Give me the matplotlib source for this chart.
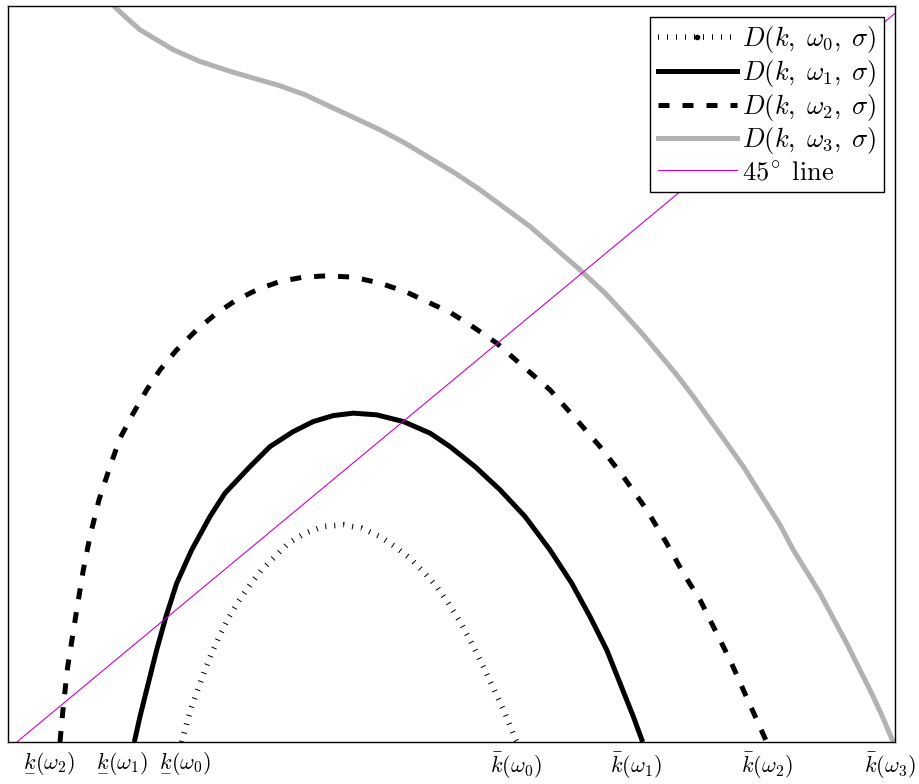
import matplotlib
matplotlib.use('Agg')
import matplotlib.pyplot as plt
from matplotlib.lines import Line2D
from matplotlib.mathtext import MathTextParser

plt.rcParams['mathtext.fontset'] = 'cm'
plt.rcParams['font.family'] = ['DejaVu Serif']

# curves (k on x, D on y, both scaled so that the 45 deg line is y = x)
k0 = [0.1958, 0.2015, 0.2071, 0.2145, 0.2221, 0.2296, 0.2390, 0.2484, 0.2596,
      0.2728, 0.2860, 0.3010, 0.3160, 0.3348, 0.3555, 0.3780, 0.3988, 0.4194,
      0.4363, 0.4532, 0.4682, 0.4833, 0.4964, 0.5096, 0.5228, 0.5358, 0.5490,
      0.5603, 0.5716, 0.5738]
d0 = [0.0100, 0.0355, 0.0581, 0.0831, 0.1079, 0.1306, 0.1555, 0.1782, 0.2008,
      0.2235, 0.2438, 0.2619, 0.2801, 0.2937, 0.3027, 0.3050, 0.3005, 0.2891,
      0.2755, 0.2597, 0.2415, 0.2212, 0.1986, 0.1736, 0.1442, 0.1124, 0.0785,
      0.0491, 0.0151, 0.0100]

k1 = [0.1424, 0.1488, 0.1582, 0.1676, 0.1781, 0.1902, 0.2071, 0.2277, 0.2446,
      0.2728, 0.2954, 0.3216, 0.3442, 0.3667, 0.3893, 0.4157, 0.4457, 0.4758,
      0.4983, 0.5265, 0.5547, 0.5829, 0.6110, 0.6355, 0.6561, 0.6750, 0.6900,
      0.7050, 0.7155]
d1 = [0.0100, 0.0445, 0.0899, 0.1351, 0.1804, 0.2258, 0.2710, 0.3163, 0.3481,
      0.3842, 0.4114, 0.4318, 0.4454, 0.4535, 0.4568, 0.4545, 0.4454, 0.4296,
      0.4114, 0.3842, 0.3526, 0.3163, 0.2710, 0.2258, 0.1804, 0.1351, 0.0899,
      0.0445, 0.0100]

k2 = [0.0586, 0.0623, 0.0673, 0.0775, 0.0849, 0.0924, 0.1026, 0.1150, 0.1263,
      0.1413, 0.1564, 0.1714, 0.1902, 0.2127, 0.2353, 0.2578, 0.2822, 0.3067,
      0.3329, 0.3593, 0.3893, 0.4194, 0.4495, 0.4758, 0.4983, 0.5209, 0.5510,
      0.5809, 0.6110, 0.6411, 0.6674, 0.6937, 0.7201, 0.7426, 0.7613, 0.7802,
      0.7952, 0.8140, 0.8290, 0.8553]
d2 = [0.0100, 0.0581, 0.1124, 0.1895, 0.2438, 0.2891, 0.3390, 0.3842, 0.4228,
      0.4568, 0.4885, 0.5156, 0.5428, 0.5700, 0.5927, 0.6108, 0.6253, 0.6357,
      0.6416, 0.6434, 0.6416, 0.6335, 0.6212, 0.6063, 0.5938, 0.5768, 0.5519,
      0.5201, 0.4885, 0.4477, 0.4114, 0.3706, 0.3254, 0.2801, 0.2394, 0.2031,
      0.1668, 0.1215, 0.0808, 0.0100]

k3 = [0.1187, 0.1338, 0.1488, 0.1676, 0.1864, 0.2165, 0.2540, 0.3067, 0.3348,
      0.3630, 0.3912, 0.4194, 0.4476, 0.4758, 0.5039, 0.5321, 0.5603, 0.5885,
      0.6167, 0.6449, 0.6731, 0.6975, 0.7162, 0.7351, 0.7539, 0.7726, 0.7914,
      0.8103, 0.8290, 0.8478, 0.8704, 0.8853, 0.9004, 0.9154, 0.9304, 0.9455,
      0.9586, 0.9718, 0.9850, 0.9980]
d3 = [1.0107, 0.9936, 0.9777, 0.9641, 0.9505, 0.9346, 0.9199, 0.9016, 0.8894,
      0.8735, 0.8577, 0.8418, 0.8237, 0.8033, 0.7830, 0.7603, 0.7354, 0.7104,
      0.6810, 0.6515, 0.6199, 0.5881, 0.5632, 0.5360, 0.5089, 0.4794, 0.4477,
      0.4160, 0.3842, 0.3481, 0.3050, 0.2710, 0.2415, 0.2122, 0.1782, 0.1442,
      0.1124, 0.0808, 0.0468, 0.0100]

tick_pos = [0.046, 0.129, 0.200, 0.572, 0.708, 0.855, 0.994]
tick_low = ['omega_2', 'omega_1', 'omega_0']
tick_high = ['omega_0', 'omega_1', 'omega_2', 'omega_3']


def mathtext_ok(s):
    try:
        MathTextParser('path').parse(s)
        return True
    except Exception:
        return False


if mathtext_ok(r'$\underline{k}$'):
    low_k = r'\underline{k}'
else:
    low_k = r'\underset{-}{k}'

labels = [r'$%s(\%s)$' % (low_k, w) for w in tick_low]
labels += [r'$\bar{k}(\%s)$' % w for w in tick_high]

deg = r'$45^{\!\circ}\ \mathrm{line}$'
if not mathtext_ok(deg):
    deg = r'$45^\circ\ \mathrm{line}$'

fig = plt.figure(figsize=(9.2, 7.84), dpi=100)
ax = fig.add_axes([8 / 920, 42 / 784, 887 / 920, 736 / 784])

dot_style = (0, (0.18, 1.44))
dash_style = (0, (2.2, 2.6))
ax.plot(k0, d0, color='black', lw=4.0, linestyle=dot_style,
        dash_capstyle='butt')
ax.plot(k1, d1, color='black', lw=3.6, solid_capstyle='butt')
ax.plot(k2, d2, color='black', lw=3.6, linestyle=dash_style,
        dash_capstyle='butt')
ax.plot(k3, d3, color='#b2b2b2', lw=3.6, solid_capstyle='butt')
ax.plot([0, 1.02], [0, 1.02], color='#cc00cc', lw=0.8)

ax.set_xlim(0, 1)
ax.set_ylim(0.01, 1.01)
ax.set_yticks([])
ax.set_xticks(tick_pos)
ax.set_xticklabels(labels, fontsize=16)
ax.tick_params(axis='x', length=0, pad=6)
for s in ax.spines.values():
    s.set_linewidth(1.0)

handles = [
    Line2D([], [], color='black', lw=4.0, linestyle=dot_style,
           dash_capstyle='butt', marker='.', markersize=6),
    Line2D([], [], color='black', lw=3.6),
    Line2D([], [], color='black', lw=3.6, linestyle=dash_style,
           dash_capstyle='butt'),
    Line2D([], [], color='#b2b2b2', lw=3.6),
    Line2D([], [], color='#cc00cc', lw=0.8),
]
names = [r'$D(k,\;\omega_0,\;\sigma)$', r'$D(k,\;\omega_1,\;\sigma)$',
         r'$D(k,\;\omega_2,\;\sigma)$', r'$D(k,\;\omega_3,\;\sigma)$', deg]
leg = ax.legend(handles, names, loc='upper right', fontsize=19,
                numpoints=1, handlelength=3.0, handletextpad=0.2,
                labelspacing=0.1, borderpad=0.3, fancybox=False,
                framealpha=1, edgecolor='black', borderaxespad=0.4)
leg.get_frame().set_linewidth(1.0)

fig.savefig('out.png', dpi=100)
